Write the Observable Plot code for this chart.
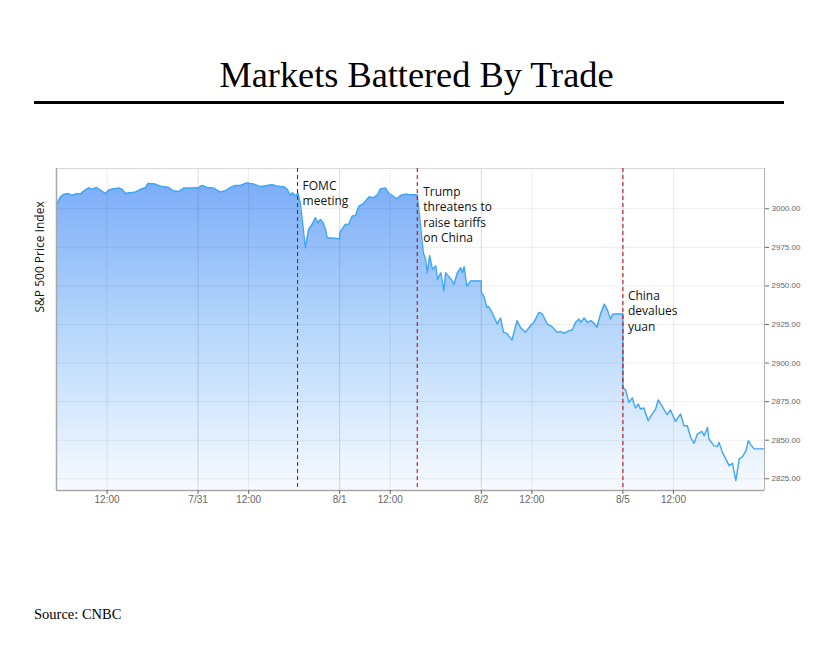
<!DOCTYPE html>
<html><head><meta charset="utf-8">
<script src="https://cdn.jsdelivr.net/npm/d3@7"></script>
<script src="https://cdn.jsdelivr.net/npm/@observablehq/plot@0.6"></script>
<style>
body{margin:0;background:#fff;}
#page{position:relative;width:830px;height:654px;overflow:hidden;background:#fff;}
#title{position:absolute;left:0;width:833px;top:57px;text-align:center;font-family:"Liberation Serif",serif;font-size:36.3px;line-height:36px;color:#000;}
#rule{position:absolute;left:34px;width:750px;top:101px;height:3px;background:#000;}
#chart{position:absolute;left:0;top:120px;}
#source{position:absolute;left:34px;top:607px;font-family:"Liberation Serif",serif;font-size:14.5px;line-height:14.5px;color:#000;}
</style></head>
<body>
<div id="page">
  <div id="title">Markets Battered By Trade</div>
  <div id="rule"></div>
  <div id="chart"></div>
  <div id="source">Source: CNBC</div>
</div>
<script>
// Trading days shown (sessions drawn 09:30–16:30, nights removed)
const tradingDays = ["7/30", "7/31", "8/1", "8/2", "8/5"];

// S&P 500 intraday readings
const times = [
  "7/30 09:30","7/30 09:42","7/30 09:51","7/30 10:06","7/30 10:16","7/30 10:31","7/30 10:41","7/30 10:51","7/30 11:06","7/30 11:16",
  "7/30 11:29","7/30 11:40","7/30 11:55","7/30 12:05","7/30 12:20","7/30 12:35","7/30 12:45","7/30 12:55","7/30 13:09","7/30 13:24",
  "7/30 13:39","7/30 13:54","7/30 14:01","7/30 14:19","7/30 14:38","7/30 15:03","7/30 15:18","7/30 15:33","7/30 15:48","7/30 16:07","7/30 16:30",
  "7/31 09:30","7/31 09:42","7/31 09:57","7/31 10:16","7/31 10:36","7/31 10:51","7/31 11:06","7/31 11:21","7/31 11:36","7/31 11:55",
  "7/31 12:15","7/31 12:35","7/31 12:55","7/31 13:10","7/31 13:25","7/31 13:45","7/31 13:55","7/31 14:03","7/31 14:10","7/31 14:20",
  "7/31 14:26","7/31 14:33","7/31 14:41","7/31 14:48","7/31 14:58","7/31 15:08","7/31 15:18","7/31 15:25","7/31 15:33","7/31 15:41",
  "7/31 15:48","7/31 15:53","7/31 16:30",
  "8/1 09:30","8/1 09:47","8/1 09:57","8/1 10:07","8/1 10:17","8/1 10:27","8/1 10:37","8/1 10:47","8/1 10:57","8/1 11:11",
  "8/1 11:23","8/1 11:31","8/1 11:46","8/1 11:56","8/1 12:06","8/1 12:19","8/1 12:31","8/1 12:46","8/1 13:01","8/1 13:20",
  "8/1 13:30","8/1 13:38","8/1 13:45","8/1 13:50","8/1 13:57","8/1 14:05","8/1 14:15","8/1 14:20","8/1 14:30","8/1 14:39",
  "8/1 14:44","8/1 14:50","8/1 15:01","8/1 15:09","8/1 15:19","8/1 15:29","8/1 15:34","8/1 15:39","8/1 15:47","8/1 15:59","8/1 16:30",
  "8/2 09:30","8/2 09:37","8/2 09:47","8/2 09:52","8/2 10:02","8/2 10:17","8/2 10:27","8/2 10:36","8/2 10:46","8/2 11:01",
  "8/2 11:16","8/2 11:26","8/2 11:41","8/2 11:56","8/2 12:06","8/2 12:21","8/2 12:31","8/2 12:46","8/2 13:00","8/2 13:15",
  "8/2 13:25","8/2 13:35","8/2 13:50","8/2 14:00","8/2 14:10","8/2 14:20","8/2 14:25","8/2 14:35","8/2 14:45","8/2 14:55",
  "8/2 15:05","8/2 15:13","8/2 15:25","8/2 15:35","8/2 15:43","8/2 15:53","8/2 16:00","8/2 16:30",
  "8/5 09:30","8/5 09:38","8/5 09:48","8/5 09:58","8/5 10:03","8/5 10:08","8/5 10:16","8/5 10:22","8/5 10:32","8/5 10:45",
  "8/5 10:57","8/5 11:07","8/5 11:15","8/5 11:27","8/5 11:41","8/5 11:51","8/5 12:06","8/5 12:21","8/5 12:31","8/5 12:41",
  "8/5 12:51","8/5 13:01","8/5 13:11","8/5 13:24","8/5 13:31","8/5 13:41","8/5 13:45","8/5 14:00","8/5 14:10","8/5 14:15",
  "8/5 14:25","8/5 14:35","8/5 14:45","8/5 14:55","8/5 15:05","8/5 15:15","8/5 15:25","8/5 15:35","8/5 15:42","8/5 15:49",
  "8/5 15:59","8/5 16:30"
];
const prices = [
  3002.8,3007.8,3009.3,3009.9,3008.6,3009.9,3009.5,3011.5,3013.6,3012.5,
  3013.8,3012.1,3009.9,3012.1,3013.0,3013.4,3012.5,3009.9,3010.4,3010.8,
  3012.5,3013.6,3016.4,3016.2,3014.7,3013.8,3011.5,3011.2,3013.4,3013.4,3013.6,
  3013.6,3015.1,3013.8,3013.4,3010.8,3011.7,3013.8,3015.1,3015.1,3016.8,
  3016.0,3014.3,3015.1,3015.6,3014.7,3014.3,3012.5,3008.6,3010.4,3008.2,
  3010.2,3003.9,2988.8,2974.7,2986.6,2989.9,2994.2,2990.9,2993.1,2990.9,
  2986.6,2981.2,2980.6,
  2984.5,2989.9,2989.9,2995.2,2995.7,3001.7,3002.8,3005.0,3007.6,3007.1,
  3009.3,3013.0,3013.4,3009.9,3008.6,3006.5,3008.6,3009.5,3009.1,3009.1,
  2988.8,2971.5,2967.2,2958.5,2969.7,2960.7,2962.9,2954.2,2958.5,2946.7,
  2958.5,2957.0,2954.2,2951.0,2958.5,2961.8,2958.5,2962.4,2949.9,2953.2,2953.2,
  2946.0,2943.6,2936.0,2936.5,2932.8,2925.3,2929.2,2919.9,2919.2,2914.9,
  2927.5,2923.1,2919.9,2924.2,2926.4,2932.8,2931.8,2925.3,2923.6,2919.9,
  2920.5,2919.2,2921.0,2921.4,2926.4,2928.5,2926.4,2929.2,2926.4,2927.5,
  2925.7,2923.2,2932.8,2938.2,2935.0,2928.5,2931.8,2931.8,
  2884.0,2882.5,2874.5,2877.4,2873.5,2870.9,2873.5,2870.2,2870.9,2862.6,
  2867.0,2870.2,2876.1,2871.7,2866.5,2869.6,2862.2,2867.0,2859.4,2859.4,
  2851.9,2848.0,2854.0,2855.7,2852.9,2858.3,2850.8,2846.5,2845.8,2848.6,
  2842.1,2837.9,2833.5,2835.0,2823.8,2837.9,2839.3,2843.2,2849.7,2847.1,
  2844.4,2844.4
];

// Events
const eventTimes = ["7/31 14:25", "8/1 13:20", "8/5 09:30"];
const eventLabels = ["FOMC\nmeeting", "Trump\nthreatens to\nraise tariffs\non China", "China\ndevalues\nyuan"];

// Axis ticks
const xTickTimes = ["7/30 12:00","7/31 09:30","7/31 12:00","8/1 09:30","8/1 12:00","8/2 09:30","8/2 12:00","8/5 09:30","8/5 12:00"];
const xTickLabels = ["12:00","7/31","12:00","8/1","12:00","8/2","12:00","8/5","12:00"];
const yTicks = [2825, 2850, 2875, 2900, 2925, 2950, 2975, 3000];
const yDomain = [2817.4, 3026.1];

// trading-time position: day index + fraction of the 09:30–16:30 window
function tpos(s) {
  const [day, hm] = s.split(" ");
  const [h, m] = hm.split(":").map(Number);
  return tradingDays.indexOf(day) + (h * 60 + m - 570) / 420;
}

const data = times.map((t, i) => ({x: tpos(t), price: prices[i]}));
const events = eventTimes.map((t, i) => ({x: tpos(t), label: eventLabels[i]}));
const xTicks = xTickTimes.map(tpos);
const labelMap = new Map(xTicks.map((v, i) => [v, xTickLabels[i]]));
const dayTicks = xTicks.filter((v, i) => !xTickLabels[i].includes(":"));
const noonTicks = xTicks.filter((v, i) => xTickLabels[i].includes(":"));

const gradient = () => {
  const defs = d3.create("svg:defs");
  const g = defs.append("linearGradient").attr("id", "areaGrad")
    .attr("x1", 0).attr("x2", 0).attr("y1", 0).attr("y2", 1);
  g.append("stop").attr("offset", "0%").attr("stop-color", "#7dadf9");
  g.append("stop").attr("offset", "45%").attr("stop-color", "#b3d5fb");
  g.append("stop").attr("offset", "100%").attr("stop-color", "#f8fbff");
  return defs.node();
};

const annoDx = [5, 6, 5];
const annoDy = [10, 16, 120];

const chart = Plot.plot({
  width: 830,
  height: 420,
  marginLeft: 56,
  marginRight: 66,
  marginTop: 48,
  marginBottom: 50,
  style: {fontFamily: "'Liberation Sans', Arial, sans-serif", background: "transparent"},
  x: {domain: [0, tradingDays.length]},
  y: {domain: yDomain},
  marks: [
    gradient,
    Plot.areaY(data, {x: "x", y1: yDomain[0], y2: "price", fill: "url(#areaGrad)"}),
    Plot.gridY(yTicks, {stroke: "#000", strokeOpacity: 0.07}),
    Plot.gridX(noonTicks, {stroke: "#000", strokeOpacity: 0.07}),
    Plot.gridX(dayTicks, {stroke: "#5a6f8c", strokeOpacity: 0.25}),
    Plot.lineY(data, {x: "x", y: "price", stroke: "#3ea6f6", strokeWidth: 1.4}),
    Plot.frame({stroke: "#d9d9d9"}),
    Plot.ruleX([0], {stroke: "#a8a8a8", strokeWidth: 1.5}),
    Plot.ruleY([yDomain[0]], {stroke: "#a8a8a8", strokeWidth: 1.5}),
    Plot.ruleX([tradingDays.length], {stroke: "#b0b0b0"}),
    Plot.ruleX(events, {x: "x", stroke: "#b00000", strokeDasharray: "4,3", strokeWidth: 1}),
    ...events.map((e, i) => Plot.text([e], {
      x: "x", frameAnchor: "top", text: "label", textAnchor: "start", lineAnchor: "top",
      dx: annoDx[i], dy: annoDy[i], lineHeight: 1.3, fontSize: 12,
      fontFamily: "'Open Sans', sans-serif", fill: "#111"
    })),
    Plot.axisY(yTicks, {anchor: "right", tickFormat: d => d.toFixed(2), tickSize: 4, tickPadding: 3,
      fontSize: 8, color: "#666", label: null}),
    Plot.axisX(xTicks, {anchor: "bottom", tickFormat: d => labelMap.get(d), tickSize: 4, tickPadding: 1,
      fontSize: 10, color: "#666", label: null}),
    Plot.text(["S&P 500 Price Index"], {frameAnchor: "left", rotate: -90, dx: -16, dy: -17,
      fontSize: 12, fontFamily: "'Open Sans', sans-serif", fill: "#111"})
  ]
});
document.getElementById("chart").appendChild(chart);
</script>
</body></html>
